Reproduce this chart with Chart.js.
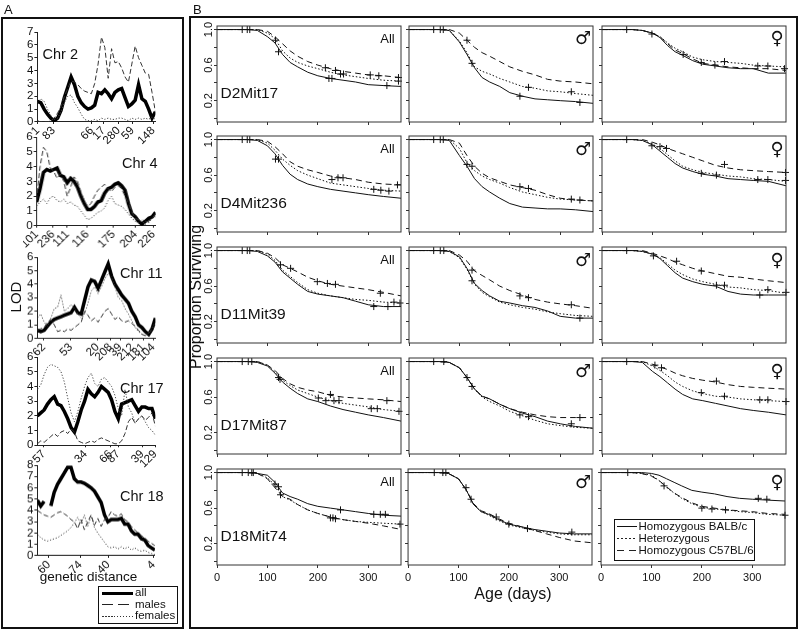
<!DOCTYPE html>
<html><head><meta charset="utf-8">
<script src="https://cdn.jsdelivr.net/npm/chart.js@4.4.1/dist/chart.umd.min.js"></script>
<style>
body{margin:0;background:#fff;}
#root{position:relative;width:800px;height:632px;overflow:hidden;background:#fff;font-family:"Liberation Sans",Arial,Helvetica,sans-serif;color:#111;}
.abs{position:absolute;white-space:nowrap;line-height:1;}
.wrap{position:absolute;}
</style></head><body><div id="root"></div>
<script>
// ---------------- Panel A: LOD data (values along each chromosome) ----------------
const chr2Labels = ['1','83','66','17','280','59','148'];
const chr2TickPos = [0.1, 4.8, 16.1, 19.6, 24.1, 28.2, 34.4];
const chr2All = [1.6,1.5,1.0,0.6,0.3,0.1,0.3,0.9,1.9,2.7,3.5,2.9,2.0,1.5,1.2,1.0,1.1,1.3,2.3,2.2,2.5,2.2,1.8,2.3,2.5,2.6,1.9,1.2,1.4,1.7,2.9,1.8,1.6,1.0,0.3,0.8];
const chr2Males = [0.1,0.0,0.0,0.0,0.1,0.3,0.7,1.2,2.0,2.6,3.2,3.1,2.9,2.6,2.4,2.3,2.2,3.0,4.5,6.6,5.8,3.4,5.7,4.6,4.7,4.2,3.5,3.1,4.5,5.9,5.0,4.4,3.8,3.7,2.3,0.8];
const chr2Females = [1.5,1.8,1.6,1.0,0.5,0.2,0.3,0.8,1.5,2.0,2.1,1.5,1.1,0.6,0.2,0.1,0.1,0.2,0.1,0.3,0.2,0.3,0.2,0.2,0.3,0.3,0.2,0.1,0.3,0.2,0.3,0.2,0.3,0.2,0.4,0.2];

const chr4Labels = ['101','236','111','116','175','204','226'];
const chr4TickPos = [0, 4.8, 9.0, 14.9, 22.6, 29.1, 34.4];
const chr4All = [1.6,2.5,3.6,3.8,3.7,3.8,3.9,3.4,3.3,2.9,3.2,3.0,2.6,2.0,1.5,1.1,1.1,1.3,1.6,1.7,2.2,2.5,2.6,2.8,2.9,2.7,2.4,1.5,0.8,0.6,0.3,0.1,0.3,0.5,0.6,0.9];
const chr4Males = [1.7,4.0,5.3,5.0,3.9,3.7,3.2,3.5,3.0,2.0,2.6,3.3,3.0,2.3,1.7,1.3,1.5,2.0,2.4,2.6,2.8,2.5,2.3,2.6,2.7,2.5,2.0,1.5,0.9,0.5,0.4,0.3,0.1,0.3,0.5,0.8];
const chr4Females = [1.3,1.6,1.8,1.5,1.9,2.0,1.7,1.6,1.8,1.5,1.6,1.4,1.3,1.0,0.7,0.4,0.5,0.7,0.9,1.0,1.2,1.7,2.0,1.5,1.4,1.3,1.1,0.8,0.5,0.3,0.2,0.4,0.3,0.2,0.5,0.6];

const chr11Labels = ['62','53','20','208','39','212','181','104'];
const chr11TickPos = [1.9, 9.9, 17.8, 21.7, 24.6, 28.2, 31.4, 34.4];
const chr11All = [0.6,0.5,0.6,0.9,1.2,1.4,1.5,1.6,1.7,1.8,1.9,2.3,1.9,1.8,2.8,3.8,4.3,4.2,3.7,4.3,4.9,5.5,4.6,4.0,3.6,3.2,2.9,2.6,2.0,1.6,1.0,0.8,0.5,0.3,0.7,1.5];
const chr11Males = [0.6,0.7,0.8,1.2,1.4,1.0,0.5,0.6,0.5,0.7,0.6,0.8,1.0,1.2,2.0,1.7,1.3,1.5,1.2,1.6,2.0,2.2,1.8,1.4,1.6,1.3,1.2,1.3,1.1,0.9,0.6,0.3,0.2,0.4,0.6,1.0];
const chr11Females = [1.5,1.8,1.2,0.9,1.5,2.2,2.3,3.2,2.0,2.2,2.5,2.2,1.8,1.5,1.8,2.6,3.5,3.8,3.3,3.8,4.4,4.8,4.5,3.8,3.0,2.8,2.2,1.8,1.3,0.8,0.5,0.3,0.2,0.4,0.8,1.2];

const chr17Labels = ['57','34','66','87','39','129'];
const chr17TickPos = [1.9, 14.3, 21.7, 24.0, 31.1, 35];
const chr17All = [2.0,2.2,2.4,2.8,3.1,3.3,2.8,2.7,2.3,1.8,1.2,0.9,1.6,2.4,3.0,3.8,3.5,3.3,3.6,4.0,3.8,3.6,3.1,2.3,1.8,2.8,2.9,3.0,3.1,2.7,2.3,2.6,2.6,2.5,2.5,1.8];
const chr17Males = [0.1,0.3,0.2,0.4,0.6,0.8,0.6,0.9,1.0,0.8,1.1,0.9,0.3,0.2,0.1,0.2,0.3,0.2,0.4,0.5,0.4,0.3,0.2,0.1,0.1,0.3,0.8,1.6,1.9,1.5,1.8,2.0,1.7,1.9,2.2,1.3];
const chr17Females = [3.8,4.1,4.8,5.3,5.5,5.4,5.3,5.0,4.3,3.2,2.2,1.6,2.3,3.2,4.0,4.6,4.9,4.2,4.0,4.5,4.6,4.3,4.0,3.4,2.5,2.0,3.8,2.6,2.2,1.5,1.8,2.0,1.6,1.2,1.0,0.7];

const chr18Labels = ['60','74','40','4'];
const chr18TickPos = [3.4, 12.8, 21.1, 34.6];
const chr18All = [4.9,4.4,4.8,null,4.4,5.6,6.3,6.8,7.3,7.8,7.8,6.8,6.5,6.5,6.4,6.2,6.0,5.7,5.2,4.7,3.6,3.0,3.2,3.2,3.2,3.3,2.8,2.8,2.2,1.9,1.9,1.5,1.4,0.9,0.7,0.5];
const chr18Males = [4.0,3.8,3.6,3.5,3.4,3.6,3.8,3.9,3.7,3.5,3.2,3.0,2.4,3.2,2.3,3.0,3.6,2.7,3.3,2.6,3.2,3.4,3.9,3.6,3.5,3.7,3.2,3.0,2.6,2.3,2.0,1.8,1.5,1.3,1.1,0.9];
const chr18Females = [1.9,1.6,1.4,1.3,1.4,1.5,1.6,1.8,2.0,2.2,2.5,2.9,3.4,2.8,3.6,2.6,3.5,2.5,2.0,1.6,1.2,0.8,0.7,0.8,0.6,0.8,0.6,0.8,0.5,0.7,0.5,0.4,0.5,0.3,0.2,0.1];

// ---------------- Panel B: survival data ----------------
const survDays = [0,60,80,100,115,130,145,160,180,200,225,250,275,300,330,365];
const survXTicks = [0,100,200,300];
const survYTicks = [0,0.2,0.4,0.6,0.8,1.0];
const survYLabels = [1.0,0.6,0.2];
const markerNames = ['D2Mit17','D4Mit236','D11Mit39','D17Mit87','D18Mit74'];
const groupNames = ['All','\u2642','\u2640'];
const legendNames = ['Homozygous BALB/c','Heterozygous','Homozygous C57BL/6'];

const d2All_bal = [1,1,0.99,0.92,0.85,0.72,0.63,0.58,0.52,0.48,0.45,0.43,0.41,0.38,0.37,0.36];
const d2All_het = [1,1,1,0.96,0.9,0.76,0.68,0.63,0.59,0.56,0.52,0.49,0.47,0.45,0.43,0.42];
const d2All_b6  = [1,1,1,0.98,0.92,0.84,0.76,0.7,0.64,0.6,0.56,0.53,0.51,0.49,0.48,0.46];
const d2All_cens = [[50,1],[60,1],[65,1],[116,0.88],[122,0.75],[215,0.57],[222,0.45],[228,0.45],[235,0.54],[245,0.5],[251,0.5],[304,0.49],[321,0.48],[337,0.37],[360,0.46],[360,0.42]];
const d2M_bal = [1,1,0.99,0.86,0.72,0.57,0.46,0.41,0.36,0.29,0.25,0.22,0.21,0.2,0.19,0.17];
const d2M_het = [1,1,0.99,0.87,0.74,0.58,0.53,0.5,0.45,0.41,0.36,0.34,0.31,0.3,0.28,0.26];
const d2M_b6  = [1,1,1,0.96,0.88,0.8,0.74,0.7,0.64,0.58,0.53,0.49,0.44,0.42,0.41,0.39];
const d2M_cens = [[49,1],[62,1],[68,1],[115,0.88],[125,0.62],[220,0.25],[237,0.35],[322,0.3],[339,0.18]];
const d2F_bal = [1,1,0.99,0.96,0.91,0.82,0.75,0.71,0.65,0.61,0.59,0.57,0.56,0.56,0.51,0.51];
const d2F_het = [1,1,0.99,0.96,0.92,0.85,0.79,0.75,0.69,0.66,0.64,0.63,0.62,0.6,0.59,0.58];
const d2F_b6  = [1,1,0.99,0.96,0.92,0.84,0.77,0.73,0.67,0.62,0.6,0.58,0.57,0.56,0.56,0.54];
const d2F_cens = [[49,1],[99,0.95],[161,0.72],[197,0.63],[224,0.6],[243,0.64],[309,0.59],[329,0.59],[362,0.56]];

const d4All_bal = [1,1,0.99,0.93,0.84,0.71,0.61,0.55,0.5,0.47,0.44,0.42,0.4,0.38,0.36,0.34];
const d4All_het = [1,1,1,0.96,0.88,0.78,0.71,0.65,0.6,0.56,0.51,0.49,0.47,0.45,0.43,0.42];
const d4All_b6  = [1,1,1,0.98,0.92,0.84,0.75,0.7,0.66,0.63,0.59,0.57,0.55,0.52,0.5,0.49];
const d4All_cens = [[50,1],[60,1],[65,1],[116,0.78],[122,0.78],[228,0.55],[240,0.57],[250,0.57],[311,0.44],[325,0.43],[341,0.42],[358,0.49]];
const d4M_bal = [1,1,0.99,0.82,0.7,0.56,0.47,0.41,0.34,0.28,0.24,0.23,0.22,0.22,0.21,0.19];
const d4M_het = [1,1,1,0.9,0.74,0.65,0.59,0.55,0.51,0.46,0.41,0.38,0.35,0.33,0.32,0.31];
const d4M_b6  = [1,1,1,0.96,0.82,0.7,0.62,0.57,0.53,0.49,0.46,0.43,0.38,0.34,0.32,0.31];
const d4M_cens = [[49,1],[62,1],[68,1],[115,0.72],[125,0.7],[220,0.47],[237,0.45],[322,0.33],[339,0.32]];
const d4F_bal = [1,1,0.99,0.94,0.87,0.8,0.73,0.68,0.64,0.61,0.59,0.56,0.55,0.54,0.53,0.48];
const d4F_het = [1,1,0.99,0.95,0.9,0.83,0.76,0.7,0.66,0.63,0.61,0.59,0.58,0.56,0.55,0.53];
const d4F_b6  = [1,1,1,0.97,0.94,0.9,0.87,0.84,0.8,0.76,0.71,0.68,0.66,0.65,0.64,0.63];
const d4F_cens = [[49,1],[99,0.93],[115,0.92],[128,0.9],[197,0.62],[227,0.6],[243,0.72],[309,0.55],[329,0.55],[364,0.63],[364,0.54]];

const d11All_bal = [1,1,0.99,0.94,0.87,0.76,0.69,0.62,0.54,0.51,0.49,0.47,0.43,0.39,0.37,0.37];
const d11All_het = [1,1,1,0.96,0.89,0.78,0.71,0.64,0.56,0.52,0.49,0.47,0.45,0.44,0.42,0.41];
const d11All_b6  = [1,1,1,0.97,0.92,0.84,0.8,0.76,0.7,0.66,0.62,0.6,0.58,0.56,0.53,0.49];
const d11All_cens = [[50,1],[60,1],[65,1],[126,0.84],[146,0.8],[199,0.65],[219,0.63],[235,0.62],[311,0.37],[324,0.52],[339,0.37],[351,0.42],[363,0.41]];
const d11M_bal = [1,1,0.99,0.93,0.8,0.63,0.55,0.49,0.43,0.41,0.38,0.36,0.32,0.26,0.24,0.24];
const d11M_het = [1,1,0.99,0.92,0.79,0.62,0.53,0.48,0.42,0.39,0.36,0.34,0.31,0.29,0.27,0.26];
const d11M_b6  = [1,1,1,0.95,0.88,0.77,0.72,0.67,0.6,0.55,0.5,0.45,0.42,0.4,0.38,0.35];
const d11M_cens = [[49,1],[62,1],[69,1],[125,0.78],[125,0.66],[220,0.49],[237,0.47],[322,0.39],[339,0.24]];
const d11F_bal = [1,1,0.99,0.96,0.91,0.83,0.75,0.69,0.65,0.62,0.6,0.54,0.51,0.5,0.5,0.5];
const d11F_het = [1,1,0.99,0.96,0.92,0.85,0.78,0.73,0.68,0.65,0.62,0.59,0.58,0.56,0.55,0.52];
const d11F_b6  = [1,1,1,0.97,0.94,0.91,0.87,0.84,0.8,0.77,0.74,0.71,0.7,0.68,0.66,0.64];
const d11F_cens = [[49,1],[102,0.94],[148,0.88],[197,0.77],[227,0.61],[243,0.61],[313,0.5],[329,0.56],[365,0.53]];

const d17All_bal = [1,1,0.99,0.95,0.87,0.77,0.7,0.64,0.58,0.55,0.5,0.46,0.43,0.4,0.37,0.33];
const d17All_het = [1,1,1,0.96,0.88,0.79,0.73,0.68,0.64,0.6,0.56,0.53,0.51,0.49,0.46,0.44];
const d17All_b6  = [1,1,1,0.96,0.9,0.81,0.75,0.71,0.68,0.66,0.62,0.6,0.59,0.58,0.57,0.55];
const d17All_cens = [[50,1],[62,1],[69,1],[122,0.82],[125,0.8],[201,0.59],[216,0.56],[225,0.63],[232,0.56],[242,0.56],[306,0.47],[318,0.47],[337,0.56],[361,0.44]];
const d17M_bal = [1,1,0.99,0.93,0.82,0.69,0.61,0.58,0.52,0.47,0.42,0.38,0.33,0.3,0.27,0.25];
const d17M_het = [1,1,0.99,0.93,0.82,0.69,0.6,0.55,0.5,0.44,0.39,0.34,0.3,0.28,0.26,0.25];
const d17M_b6  = [1,1,0.99,0.93,0.82,0.69,0.61,0.58,0.52,0.47,0.43,0.4,0.38,0.37,0.37,0.37];
const d17M_cens = [[49,1],[69,1],[115,0.82],[125,0.72],[220,0.4],[237,0.38],[322,0.3],[339,0.37]];
const d17F_bal = [1,1,0.99,0.89,0.83,0.76,0.69,0.63,0.58,0.56,0.53,0.5,0.47,0.45,0.43,0.4];
const d17F_het = [1,1,1,0.95,0.9,0.84,0.77,0.72,0.67,0.64,0.61,0.6,0.58,0.57,0.56,0.55];
const d17F_b6  = [1,1,1,0.97,0.94,0.91,0.87,0.84,0.81,0.79,0.77,0.74,0.72,0.71,0.7,0.69];
const d17F_cens = [[49,1],[105,0.96],[118,0.93],[197,0.65],[227,0.78],[243,0.61],[313,0.57],[329,0.57],[365,0.55]];

const d18All_bal = [1,1,0.99,0.97,0.89,0.77,0.73,0.7,0.65,0.62,0.6,0.58,0.56,0.54,0.52,0.51];
const d18All_het = [1,1,0.99,0.94,0.86,0.73,0.69,0.64,0.58,0.54,0.5,0.47,0.45,0.44,0.43,0.42];
const d18All_b6  = [1,1,0.99,0.93,0.83,0.73,0.7,0.64,0.58,0.54,0.5,0.47,0.45,0.43,0.4,0.36];
const d18All_cens = [[50,1],[62,1],[69,1],[72,1],[115,0.87],[122,0.84],[126,0.75],[225,0.49],[230,0.49],[235,0.48],[245,0.58],[311,0.53],[324,0.53],[334,0.53],[363,0.42]];
const d18M_bal = [1,1,0.99,0.93,0.81,0.64,0.56,0.53,0.47,0.42,0.39,0.36,0.34,0.32,0.31,0.31];
const d18M_het = [1,1,0.99,0.93,0.81,0.64,0.56,0.52,0.46,0.41,0.38,0.35,0.33,0.31,0.3,0.3];
const d18M_b6  = [1,1,0.99,0.93,0.81,0.65,0.57,0.54,0.48,0.43,0.39,0.35,0.31,0.27,0.23,0.21];
const d18M_cens = [[52,1],[69,1],[75,1],[115,0.83],[125,0.7],[175,0.5],[200,0.42],[237,0.37],[325,0.33]];
const d18F_bal = [1,1,1,0.99,0.97,0.93,0.89,0.85,0.8,0.78,0.76,0.73,0.71,0.7,0.69,0.68];
const d18F_het = [1,1,0.99,0.97,0.91,0.83,0.77,0.71,0.65,0.61,0.59,0.58,0.56,0.55,0.53,0.52];
const d18F_b6  = [1,1,0.99,0.96,0.91,0.84,0.77,0.72,0.66,0.62,0.6,0.58,0.57,0.56,0.54,0.53];
const d18F_cens = [[53,1],[125,0.85],[200,0.6],[220,0.59],[247,0.58],[312,0.71],[329,0.7],[365,0.52]];

// ---------------- drawing ----------------
const FONT = '"Liberation Sans", Arial, Helvetica, sans-serif';
Chart.defaults.font.family = FONT;
Chart.defaults.color = '#111';
const root = document.getElementById('root');

function place(target, config) {
  const wrap = document.createElement('div');
  wrap.className = 'wrap';
  wrap.style.left = (target.l - 40) + 'px';
  wrap.style.top = (target.t - 20) + 'px';
  wrap.style.width = (target.w + 80) + 'px';
  wrap.style.height = (target.h + 80) + 'px';
  const cv = document.createElement('canvas');
  wrap.appendChild(cv);
  root.appendChild(wrap);
  config.options.responsive = true;
  config.options.maintainAspectRatio = false;
  config.options.animation = false;
  config.options.events = [];
  const ch = new Chart(cv, config);
  const ca = ch.chartArea;
  const offL = ca.left, offT = ca.top, offR = ch.width - ca.right, offB = ch.height - ca.bottom;
  wrap.style.left = (target.l - offL) + 'px';
  wrap.style.top = (target.t - offT) + 'px';
  wrap.style.width = (target.w + offL + offR) + 'px';
  wrap.style.height = (target.h + offT + offB) + 'px';
  ch.resize();
  const ca2 = ch.chartArea;
  wrap.style.left = (target.l - ca2.left) + 'px';
  wrap.style.top = (target.t - ca2.top) + 'px';
  return ch;
}

function txt(s, x, y, size, align, extra, family) {
  const d = document.createElement('div');
  d.className = 'abs';
  d.textContent = s;
  d.style.left = x + 'px';
  d.style.top = y + 'px';
  d.style.fontSize = size + 'px';
  if (family) d.style.fontFamily = family;
  const tx = align === 'c' ? '-50%' : (align === 'r' ? '-100%' : '0');
  d.style.transform = 'translate(' + tx + ',-50%)' + (extra || '');
  root.appendChild(d);
  return d;
}
function box(l, t, w, h, bw) {
  const d = document.createElement('div');
  d.style.cssText = 'position:absolute;box-sizing:border-box;left:' + l + 'px;top:' + t + 'px;width:' + w + 'px;height:' + h + 'px;border:' + bw + 'px solid #111;';
  root.appendChild(d);
  return d;
}
function lineSample(l, t, w, h, pattern) {
  const d = document.createElement('div');
  d.style.cssText = 'position:absolute;left:' + l + 'px;top:' + (t - h / 2) + 'px;width:' + w + 'px;height:' + h + 'px;background:' + pattern + ';';
  root.appendChild(d);
}

// ---- LOD charts ----
function lodConfig(ymax, all, males, females, tickPos, tickLabels) {
  const pts = arr => arr.map((v, i) => ({x: i, y: v}));
  return {
    type: 'line',
    data: {datasets: [
      {data: pts(females), borderColor: '#444', borderWidth: 1, borderDash: [1.2, 1.8], pointRadius: 0, tension: 0},
      {data: pts(males), borderColor: '#333', borderWidth: 1, borderDash: [5, 2.5], pointRadius: 0, tension: 0},
      {data: pts(all), borderColor: '#000', borderWidth: 3.5, pointRadius: 0, tension: 0, spanGaps: false}
    ]},
    options: {
      layout: {padding: {left: 2, right: 8, top: 8, bottom: 2}},
      plugins: {legend: {display: false}, tooltip: {enabled: false}},
      scales: {
        x: {type: 'linear', min: 0, max: all.length - 1,
          afterBuildTicks: s => { s.ticks = tickPos.map(v => ({value: v})); },
          ticks: {autoSkip: false, minRotation: 45, maxRotation: 45, padding: 0, font: {size: 11.5}, color: '#111',
                  callback: (v, i) => tickLabels[i]},
          grid: {drawOnChartArea: false, tickLength: 2, color: '#222'},
          border: {color: '#222', width: 1}},
        y: {min: 0, max: ymax,
          afterBuildTicks: s => { const t = []; for (let v = 0; v <= ymax; v++) t.push({value: v}); s.ticks = t; },
          ticks: {autoSkip: false, padding: 1, font: {size: 11.5}, color: '#111'},
          grid: {drawOnChartArea: false, tickLength: 3, color: '#222'},
          border: {color: '#222', width: 1}}
      }
    }
  };
}
place({l: 37, t: 31.7, w: 118, h: 90}, lodConfig(7, chr2All, chr2Males, chr2Females, chr2TickPos, chr2Labels));
place({l: 37, t: 137.3, w: 118, h: 88.7}, lodConfig(6, chr4All, chr4Males, chr4Females, chr4TickPos, chr4Labels));
place({l: 37, t: 256.7, w: 118, h: 80.6}, lodConfig(6, chr11All, chr11Males, chr11Females, chr11TickPos, chr11Labels));
place({l: 37, t: 356.7, w: 118, h: 88.3}, lodConfig(6, chr17All, chr17Males, chr17Females, chr17TickPos, chr17Labels));
place({l: 37, t: 465, w: 118, h: 90}, lodConfig(8, chr18All, chr18Males, chr18Females, chr18TickPos, chr18Labels));

// ---- survival charts ----
const survFrame = {
  id: 'survFrame',
  afterDatasetsDraw(chart, args, opts) {
    const ctx = chart.ctx, ca = chart.chartArea;
    ctx.save();
    ctx.strokeStyle = '#333'; ctx.lineWidth = 1;
    ctx.strokeRect(ca.left, ca.top, ca.right - ca.left, ca.bottom - ca.top);
    if (opts && opts.yLabels) {
      ctx.fillStyle = '#111';
      ctx.font = '11px ' + FONT;
      ctx.textAlign = 'center'; ctx.textBaseline = 'middle';
      for (const v of opts.yLabels) {
        const y = chart.scales.y.getPixelForValue(v);
        ctx.save(); ctx.translate(ca.left - 8, y); ctx.rotate(-Math.PI / 2);
        ctx.fillText(v.toFixed(1), 0, 0); ctx.restore();
      }
    }
    ctx.restore();
  }
};
function survConfig(bal, het, b6, cens, showY, showX) {
  const pts = arr => arr.map((v, i) => ({x: survDays[i], y: v}));
  return {
    type: 'line',
    data: {datasets: [
      {data: pts(bal), borderColor: '#111', borderWidth: 1, pointRadius: 0, tension: 0},
      {data: pts(het), borderColor: '#111', borderWidth: 1, borderDash: [1.5, 2], pointRadius: 0, tension: 0},
      {data: pts(b6), borderColor: '#111', borderWidth: 1, borderDash: [6, 4], pointRadius: 0, tension: 0},
      {data: cens.map(p => ({x: p[0], y: p[1]})), showLine: false, pointStyle: 'cross', pointRadius: 3.5,
       borderColor: '#111', borderWidth: 1, clip: false}
    ]},
    options: {
      layout: {padding: {left: showY ? 16 : 2, right: 6, top: 6, bottom: 2}},
      plugins: {legend: {display: false}, tooltip: {enabled: false}, survFrame: {yLabels: showY ? survYLabels : null}},
      scales: {
        x: {type: 'linear', min: 0, max: 365,
          afterBuildTicks: s => { s.ticks = survXTicks.map(v => ({value: v})); },
          ticks: {display: showX, padding: 3, font: {size: 11}, color: '#111', maxRotation: 0},
          grid: {drawOnChartArea: false, tickLength: 3, color: '#333'},
          border: {display: false}},
        y: {min: -0.04, max: 1.04,
          afterBuildTicks: s => { s.ticks = survYTicks.map(v => ({value: v})); },
          ticks: {display: false},
          grid: {drawOnChartArea: false, tickLength: 3, color: '#333'},
          border: {display: false}}
      }
    },
    plugins: [survFrame]
  };
}
const survPanels = [
  [[d2All_bal, d2All_het, d2All_b6, d2All_cens], [d2M_bal, d2M_het, d2M_b6, d2M_cens], [d2F_bal, d2F_het, d2F_b6, d2F_cens]],
  [[d4All_bal, d4All_het, d4All_b6, d4All_cens], [d4M_bal, d4M_het, d4M_b6, d4M_cens], [d4F_bal, d4F_het, d4F_b6, d4F_cens]],
  [[d11All_bal, d11All_het, d11All_b6, d11All_cens], [d11M_bal, d11M_het, d11M_b6, d11M_cens], [d11F_bal, d11F_het, d11F_b6, d11F_cens]],
  [[d17All_bal, d17All_het, d17All_b6, d17All_cens], [d17M_bal, d17M_het, d17M_b6, d17M_cens], [d17F_bal, d17F_het, d17F_b6, d17F_cens]],
  [[d18All_bal, d18All_het, d18All_b6, d18All_cens], [d18M_bal, d18M_het, d18M_b6, d18M_cens], [d18F_bal, d18F_het, d18F_b6, d18F_cens]]
];
const colL = [217, 408.5, 601.5];
const rowT = [25.5, 136, 247, 358, 469];
const PW = 184, PH = 96;
for (let r = 0; r < 5; r++) {
  for (let c = 0; c < 3; c++) {
    const p = survPanels[r][c];
    place({l: colL[c], t: rowT[r], w: PW, h: PH}, survConfig(p[0], p[1], p[2], p[3], c === 0, r === 4));
  }
}

// ---- boxes and text ----
box(1, 17, 183, 612, 2);
box(188.5, 16, 609, 613, 2);
txt('A', 4, 9, 13, 'l');
txt('B', 193, 9, 13, 'l');

txt('Chr 2', 42.5, 53.5, 14.5, 'l');
txt('Chr 4', 122, 163, 14.5, 'l');
txt('Chr 11', 120, 273, 14.5, 'l');
txt('Chr 17', 120, 388, 14.5, 'l');
txt('Chr 18', 120, 496, 14.5, 'l');
txt('LOD', 15, 297, 15, 'c', ' rotate(-90deg)');
txt('genetic distance', 88.5, 577, 13.5, 'c');

box(98, 586, 80, 38, 1);
lineSample(102, 593.5, 31, 3.5, '#000');
lineSample(102, 604.5, 31, 1, 'repeating-linear-gradient(to right,#222 0 11px,transparent 11px 16px)');
lineSample(102, 616, 31, 1, 'repeating-linear-gradient(to right,#333 0 1.5px,transparent 1.5px 3px)');
txt('all', 135, 593, 11.5, 'l');
txt('males', 135, 604.5, 11.5, 'l');
txt('females', 135, 616, 11.5, 'l');

for (let r = 0; r < 5; r++) {
  txt(markerNames[r], colL[0] + 3.5, rowT[r] + 67, 15.5, 'l');
  txt(groupNames[0], colL[0] + PW - 13.5, rowT[r] + 12, 13, 'c');
  txt(groupNames[1], colL[1] + PW - 9.5, rowT[r] + 12.5, 18, 'c', '', '"DejaVu Sans", sans-serif').style.fontWeight = 'bold';
  txt(groupNames[2], colL[2] + PW - 8.5, rowT[r] + 12.5, 18, 'c', '', '"DejaVu Sans", sans-serif').style.fontWeight = 'bold';
}
txt('Proportion Surviving', 196, 297, 16, 'c', ' rotate(-90deg)');
txt('Age (days)', 513, 594, 16, 'c');

const lg = box(613.5, 518.5, 141, 42, 1);
lg.style.background = '#fff';
lineSample(616.5, 526.5, 20.5, 1, '#111');
lineSample(616.5, 538.5, 20.5, 1, 'repeating-linear-gradient(to right,#222 0 2px,transparent 2px 4px)');
lineSample(616.5, 550.5, 20.5, 1, 'repeating-linear-gradient(to right,#222 0 7px,transparent 7px 12px)');
txt(legendNames[0], 638.5, 526.5, 11.5, 'l');
txt(legendNames[1], 638.5, 538.5, 11.5, 'l');
txt(legendNames[2], 638.5, 550.5, 11.5, 'l');
</script></body></html>
